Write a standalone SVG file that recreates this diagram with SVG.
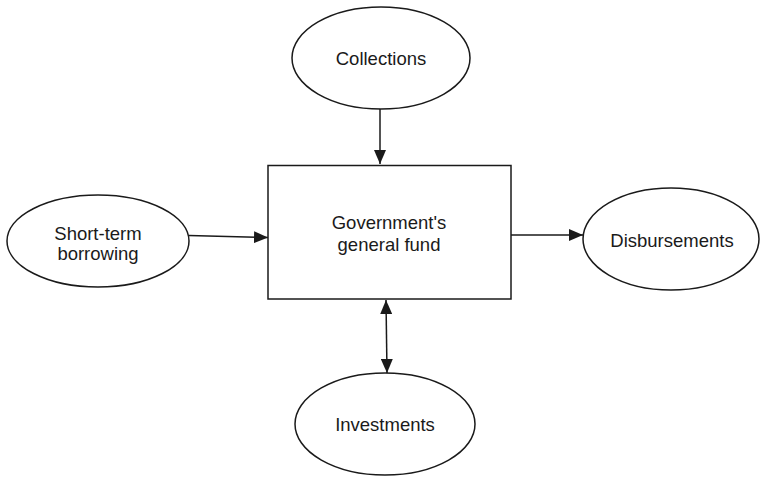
<svg xmlns="http://www.w3.org/2000/svg" width="760" height="477" viewBox="0 0 760 477">
<style>
.shape{fill:#fff;stroke:#1a1a1a;stroke-width:1.5}
.lbl{font-family:"Liberation Sans",Arial,sans-serif;font-size:18.5px;fill:#1a1a1a;text-anchor:middle}
.conn{stroke:#1a1a1a;stroke-width:1.5;fill:none}
</style>
<defs>
<marker id="ah" viewBox="0 0 14 12" refX="14" refY="6" markerWidth="14" markerHeight="12" markerUnits="userSpaceOnUse" orient="auto-start-reverse">
<path d="M0,0 L14,6 L0,12 Z" fill="#1a1a1a"/>
</marker>
</defs>
<rect width="760" height="477" fill="#fff"/>
<g id="connectors">
<line class="conn" x1="380" y1="108" x2="380" y2="164" marker-end="url(#ah)"/>
<line class="conn" x1="189" y1="235.5" x2="268" y2="237.5" marker-end="url(#ah)"/>
<line class="conn" x1="511" y1="235" x2="583" y2="235" marker-end="url(#ah)"/>
<line class="conn" x1="386" y1="300" x2="387" y2="373" marker-start="url(#ah)" marker-end="url(#ah)"/>
</g>
<g id="collections">
<ellipse class="shape" cx="381" cy="58" rx="89" ry="51"/>
<text class="lbl" x="381" y="64.5">Collections</text>
</g>
<g id="fund">
<rect class="shape" x="268" y="165.5" width="243" height="133.5"/>
<text class="lbl" x="389" y="229">Government's</text>
<text class="lbl" x="389" y="250.5">general fund</text>
</g>
<g id="borrowing">
<ellipse class="shape" cx="98" cy="241" rx="91" ry="46"/>
<text class="lbl" x="98" y="239.5">Short-term</text>
<text class="lbl" x="98" y="259.5">borrowing</text>
</g>
<g id="disbursements">
<ellipse class="shape" cx="671" cy="239" rx="88" ry="51"/>
<text class="lbl" x="672" y="246.5">Disbursements</text>
</g>
<g id="investments">
<ellipse class="shape" cx="385" cy="424" rx="90" ry="51"/>
<text class="lbl" x="385" y="430.5">Investments</text>
</g>
</svg>
